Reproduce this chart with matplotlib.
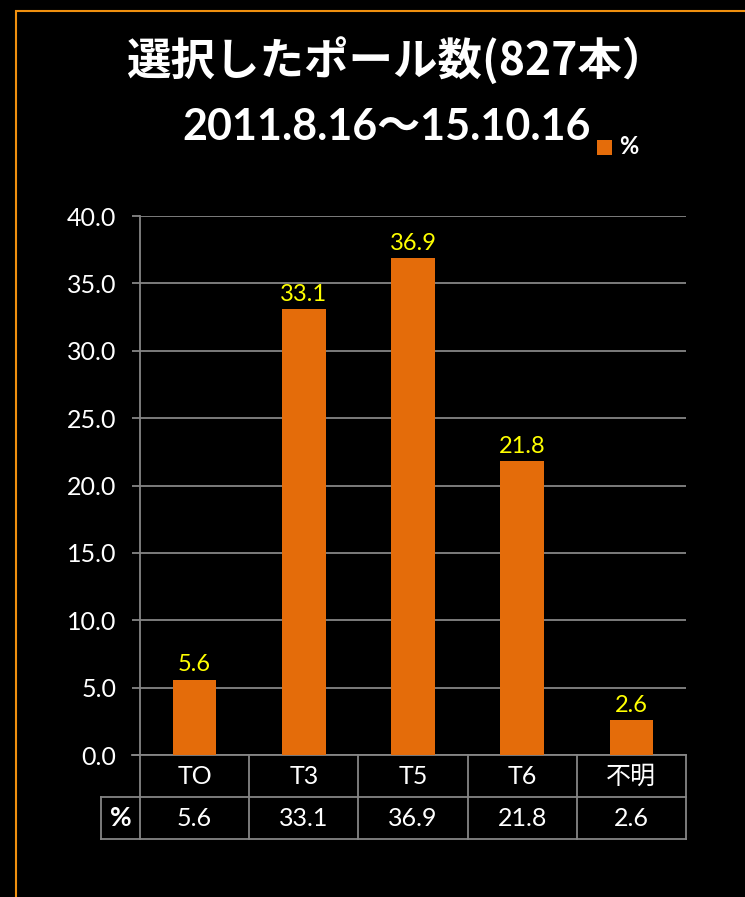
import matplotlib.pyplot as plt
from matplotlib.patches import Rectangle

plt.rcParams['font.family'] = ['Lato', 'Noto Sans CJK JP', 'DejaVu Sans']

# chart data
categories = ['TO', 'T3', 'T5', 'T6', '不明']
percent = [5.6, 33.1, 36.9, 21.8, 2.6]
yticks = [0, 5, 10, 15, 20, 25, 30, 35, 40]

title1 = '選択したポール数(827本）'
title2 = '2011.8.16～15.10.16'
series_name = '%'

bar_color = '#E46C0A'
grid_color = '#868686'
W, H = 745, 897

fig = plt.figure(figsize=(W / 100, H / 100), dpi=100, facecolor='black')

# orange frame round the chart
fig.patches.append(Rectangle((16 / W, -0.5), 2, 1.5 - 11 / H, transform=fig.transFigure,
                             fill=False, edgecolor='#F0900F', linewidth=1.5))

ax = fig.add_axes([140 / W, 1 - 755 / H, 546 / W, 539 / H])
ax.set_facecolor('black')

x = range(len(categories))
ax.bar(x, percent, width=0.4, color=bar_color, zorder=3)
for i, v in enumerate(percent):
    ax.annotate(f'{v:.1f}', (i, v), xytext=(0, 3), textcoords='offset points',
                ha='center', va='bottom', color='#FFFF00', fontsize=17)

ax.set_xlim(-0.5, len(categories) - 0.5)
ax.set_ylim(0, 40)
ax.set_yticks(yticks)
ax.set_yticklabels([f'{t:.1f}' for t in yticks], color='white', fontsize=18)
ax.tick_params(axis='y', length=6, width=1.3, color=grid_color, pad=11)
ax.set_xticks([])
ax.yaxis.grid(True, color=grid_color, linewidth=1.3)
ax.set_axisbelow(True)
for s in ['top', 'right', 'bottom']:
    ax.spines[s].set_visible(False)
ax.spines['left'].set_color(grid_color)
ax.spines['left'].set_linewidth(1.3)

# data table below the axes
tr = ax.get_xaxis_transform()
row = 42 / 539
n = len(categories)
left_cell = -0.5 - 39 / 109.2
lk = dict(color=grid_color, linewidth=1.3, transform=tr, clip_on=False)
ax.plot([-0.5 - 8 / 109.2, n - 0.5], [0, 0], **lk)
ax.plot([left_cell, n - 0.5], [-row, -row], **lk)
ax.plot([left_cell, n - 0.5], [-2 * row, -2 * row], **lk)
ax.plot([left_cell, left_cell], [-row, -2 * row], **lk)
for b in range(n + 1):
    ax.plot([b - 0.5, b - 0.5], [0, -2 * row], **lk)
for i, (c, v) in enumerate(zip(categories, percent)):
    ax.text(i, -0.5 * row, c, transform=tr, ha='center', va='center', color='white', fontsize=18)
    ax.text(i, -1.5 * row, f'{v:.1f}', transform=tr, ha='center', va='center', color='white', fontsize=18)
ax.text((left_cell - 0.5) / 2, -1.5 * row, series_name, transform=tr, ha='center', va='center',
        color='white', fontsize=19, fontweight='bold')

# titles and legend
fig.text(396 / W, 1 - 62 / H, title1, ha='center', va='center', color='white',
         fontsize=32, fontweight='bold', family=['Noto Sans CJK JP', 'DejaVu Sans'])
fig.text(387 / W, 1 - 127 / H, title2, ha='center', va='center', color='white',
         fontsize=31, fontweight='bold', family=['Lato', 'Noto Sans CJK JP', 'DejaVu Sans'])
fig.patches.append(Rectangle((597 / W, 1 - 155 / H), 15 / W, 15 / H, transform=fig.transFigure,
                             facecolor=bar_color, edgecolor='none'))
fig.text(619 / W, 1 - 146 / H, series_name, ha='left', va='center', color='white',
         fontsize=17, fontweight='bold')

fig.savefig('out.png', dpi=100, facecolor='black')
